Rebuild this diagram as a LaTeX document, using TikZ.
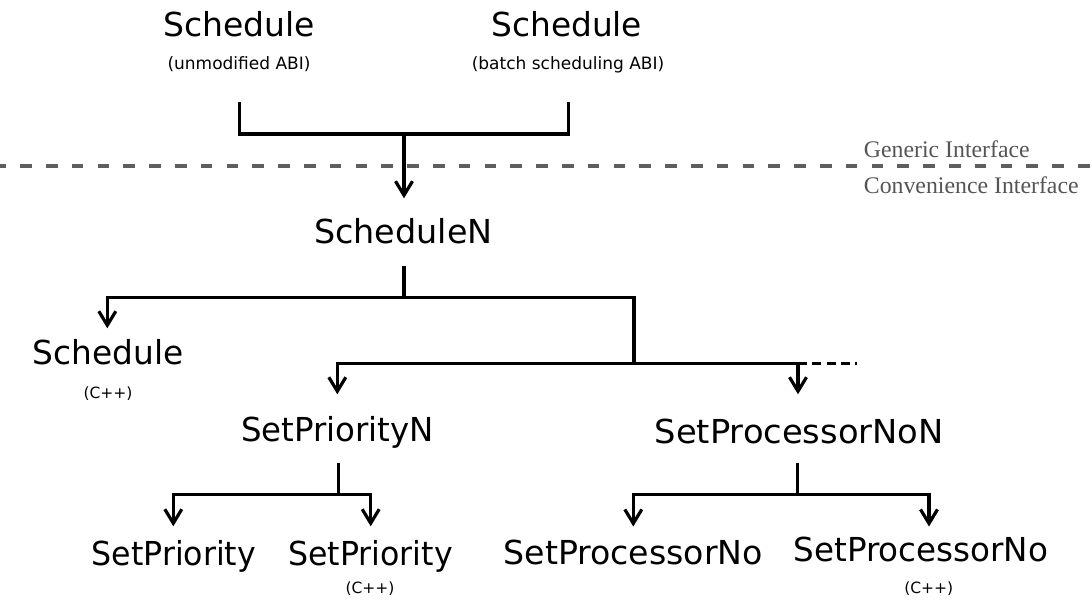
\documentclass[tikz,border=0pt]{standalone}
\usepackage{fontspec}
\usepackage{graphicx}
\setmainfont{DejaVu Sans}
\newfontfamily\layerface{Liberation Serif}
\usetikzlibrary{arrows.meta}
\definecolor{layergray}{HTML}{555555}
\definecolor{dividergray}{HTML}{5E5E5E}
% horizontal widening of a label
\newcommand{\wideby}[2]{\scalebox{#1}[1]{#2}}

\begin{document}
\begin{tikzpicture}[x=1pt,y=-1pt,
  title/.style={inner sep=0pt, anchor=base, font=\fontsize{33}{33}\selectfont},
  note/.style={inner sep=0pt, anchor=base, font=\fontsize{17}{17}\selectfont},
  lang/.style={inner sep=0pt, anchor=base, font=\fontsize{15.5}{15.5}\selectfont},
  layer/.style={inner sep=0pt, anchor=base west, text=layergray,
    font=\layerface\fontsize{23.8}{23.8}\selectfont},
  conn/.style={line width=3.2pt, line join=miter},
  flow/.style={conn, -{Straight Barb[length=14pt,width=17pt]}},
  more/.style={line width=3pt, dash pattern=on 9pt off 5.3pt},
  divider/.style={line width=3.8pt, dividergray, dash pattern=on 11.5pt off 14.3pt, dash phase=5.6pt}
]
\useasboundingbox (0,0) rectangle (1092,601);

% interface boundary
\coordinate (divL) at (0,165.7);
\coordinate (divR) at (1092,165.7);
\draw[divider] (divL) -- (divR);
\node[layer] (generic) at (863.7,157.3) {Generic Interface};
\node[layer] (convenience) at (863.7,194) {Convenience Interface};

% generic entry points
\node[title] (schedA) at (239,37) {\wideby{1.0}{Schedule}};
\node[note]  (schedAnote) at (239,69.5) {(unmodified ABI)};
\node[title] (schedB) at (566.7,37) {\wideby{0.994}{Schedule}};
\node[note]  (schedBnote) at (568,69.5) {(batch scheduling ABI)};

% convenience layer
\node[title] (schedN) at (403.3,243.3) {\wideby{1.012}{ScheduleN}};
\node[title] (schedCpp) at (108.3,364) {\wideby{0.994}{Schedule}};
\node[lang]  (schedCppnote) at (108,398) {(C++)};
\node[title] (prioN) at (337.5,441.7) {\wideby{0.981}{SetPriorityN}};
\node[title] (procN) at (799.2,443.3) {\wideby{1.022}{SetProcessorNoN}};
\node[title] (prioA) at (173.8,565) {\wideby{0.958}{SetPriority}};
\node[title] (prioB) at (370.5,565) {\wideby{0.958}{SetPriority}};
\node[lang]  (prioBnote) at (370,593) {(C++)};
\node[title] (procA) at (633.3,564) {\wideby{1.005}{SetProcessorNo}};
\node[title] (procB) at (921,561.7) {\wideby{0.986}{SetProcessorNo}};
\node[lang]  (procBnote) at (928.8,593) {(C++)};

% junction and end points of the connectors
\coordinate (aOut) at (239.3,101.7);
\coordinate (bOut) at (568.3,101.7);
\coordinate (topJ) at (404,134);
\coordinate (schedNin) at (404,198.3);

\coordinate (schedNout) at (404,265.7);
\coordinate (midJ) at (404,297.7);
\coordinate (schedCppin) at (107.3,328.3);
\coordinate (lowJ) at (634,363.3);
\coordinate (prioNin) at (337.3,394.3);
\coordinate (procNin) at (798,394.3);
\coordinate (moreEnd) at (856.7,363.3);

\coordinate (prioNout) at (338.3,462.7);
\coordinate (prioJ) at (338.3,494.7);
\coordinate (prioAin) at (173.3,526.3);
\coordinate (prioBin) at (370.7,526.3);

\coordinate (procNout) at (797.7,462.7);
\coordinate (procJ) at (797.7,494.7);
\coordinate (procAin) at (633.3,526.5);
\coordinate (procBin) at (929,526.5);

% both ABIs funnel into ScheduleN
\draw[conn] (aOut) -- (aOut|-topJ) -- (bOut|-topJ) -- (bOut);
\draw[flow] (topJ) -- (schedNin);

% ScheduleN fans out
\draw[conn] (schedNout) -- (midJ);
\draw[flow] (midJ) -| (schedCppin);
\draw[conn] (midJ) -| (lowJ);
\draw[flow] (lowJ) -| (prioNin);
\draw[flow] (lowJ) -| (procNin);
\draw[more] (procNin|-lowJ) -- (moreEnd);

% SetPriorityN
\draw[conn] (prioNout) -- (prioJ);
\draw[flow] (prioJ) -| (prioAin);
\draw[flow] (prioJ) -| (prioBin);

% SetProcessorNoN
\draw[conn] (procNout) -- (procJ);
\draw[flow] (procJ) -| (procAin);
\draw[flow] (procJ) -| (procBin);
\end{tikzpicture}
\end{document}
